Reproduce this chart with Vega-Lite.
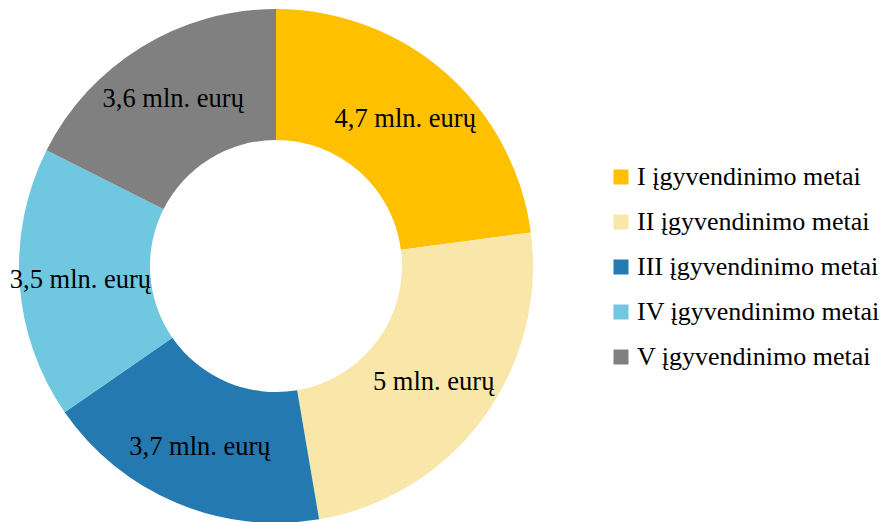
{
  "$schema": "https://vega.github.io/schema/vega-lite/v6.json",
  "width": 552,
  "height": 532,
  "autosize": {"type": "none"},
  "padding": {"left": 0, "top": 0, "right": 333, "bottom": 0},
  "background": "white",
  "data": {
    "values": [
      {"i": 1, "year": "I įgyvendinimo metai", "value": 4.7, "label": "4,7 mln. eurų"},
      {"i": 2, "year": "II įgyvendinimo metai", "value": 5.0, "label": "5 mln. eurų"},
      {"i": 3, "year": "III įgyvendinimo metai", "value": 3.7, "label": "3,7 mln. eurų"},
      {"i": 4, "year": "IV įgyvendinimo metai", "value": 3.5, "label": "3,5 mln. eurų"},
      {"i": 5, "year": "V įgyvendinimo metai", "value": 3.6, "label": "3,6 mln. eurų"}
    ]
  },
  "encoding": {
    "theta": {"field": "value", "type": "quantitative", "stack": true},
    "order": {"field": "i", "type": "quantitative"}
  },
  "layer": [
    {
      "mark": {"type": "arc", "outerRadius": 257, "innerRadius": 126, "stroke": "white", "strokeWidth": 0},
      "encoding": {
        "color": {
          "field": "year",
          "type": "nominal",
          "scale": {
            "domain": ["I įgyvendinimo metai", "II įgyvendinimo metai", "III įgyvendinimo metai", "IV įgyvendinimo metai", "V įgyvendinimo metai"],
            "range": ["#FFC000", "#F9E7AA", "#2479B1", "#70C8E0", "#808080"]
          },
          "legend": {
            "title": null,
            "orient": "none",
            "legendX": 608,
            "legendY": 164,
            "symbolType": "square",
            "symbolSize": 225,
            "symbolStrokeWidth": 0,
            "symbolOpacity": 1,
            "labelFont": "'Liberation Serif', 'Times New Roman', serif",
            "labelFontSize": 26,
            "labelColor": "black",
            "labelOffset": 3,
            "labelLimit": 400,
            "rowPadding": 19
          }
        }
      }
    },
    {
      "mark": {"type": "text", "radius": 196, "font": "'Liberation Serif', 'Times New Roman', serif", "fontSize": 26.5, "color": "black"},
      "encoding": {
        "text": {"field": "label", "type": "nominal"}
      }
    }
  ]
}
